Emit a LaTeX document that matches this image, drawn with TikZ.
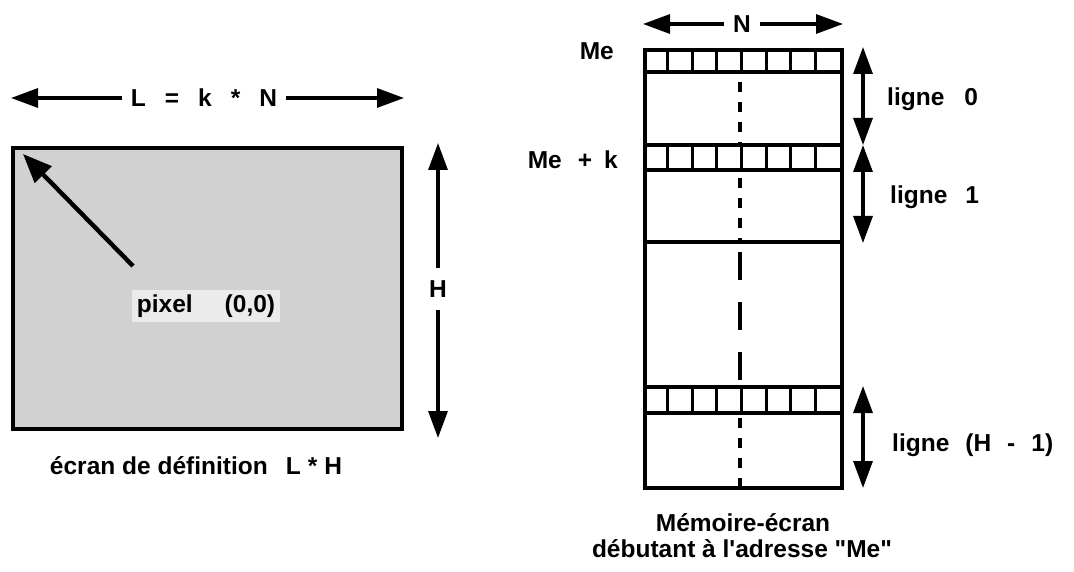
\documentclass[tikz,border=0pt]{standalone}
\usepackage{fontspec}
\setmainfont{Liberation Sans}
\usetikzlibrary{arrows.meta}
\newcommand{\wsp}[1]{\hspace{#1pt}}
\begin{document}
\begin{tikzpicture}[x=1pt,y=-1pt,
  lbl/.style={font=\fontsize{24.5}{29}\selectfont\bfseries, inner sep=0pt},
  gaplbl/.style={lbl, inner xsep=9pt, inner ysep=9pt},
  dimline/.style={line width=3.2pt, -{Triangle[length=27pt,width=19pt]}},
  dimboth/.style={line width=3.2pt, {Triangle[length=27pt,width=19pt]}-{Triangle[length=27pt,width=19pt]}},
  frame/.style={draw, line width=4pt, inner sep=0pt},
  rule/.style={line width=3.2pt},
  cellrule/.style={line width=3pt},
  shortdash/.style={line width=4pt, dash pattern=on 10pt off 10pt},
  longdash/.style={line width=4pt, dash pattern=on 28pt off 22pt}]
\useasboundingbox (0,0) rectangle (1074,572);

% ---------- screen L x H ----------
\node[frame, fill=black!18, minimum width=389pt, minimum height=281pt, anchor=north west] (screen) at (11,146) {};

\node[gaplbl] (Ltxt) at (204,98) {L\wsp{19}=\wsp{19}k\wsp{19}*\wsp{19}N};
\coordinate (Lleft) at (11,98);
\coordinate (Lright) at (404,98);
\draw[dimline] (Ltxt) -- (Lleft);
\draw[dimline] (Ltxt) -- (Lright);

\node[gaplbl, inner ysep=12pt] (Htxt) at (438,289) {H};
\coordinate (Htop) at (438,143);
\coordinate (Hbot) at (438,438);
\draw[dimline] (Htxt) -- (Htop);
\draw[dimline] (Htxt) -- (Hbot);

\node[lbl, fill=black!8, inner sep=5pt] (pix) at (206,306) {pixel\wsp{32}(0,0)};
\coordinate (ptail) at (133,266);
\coordinate (ptip) at (23,154);
\draw[line width=4.4pt, -{Triangle[length=29pt,width=23pt]}] (ptail) -- (ptip);

\node[lbl] (cap1) at (196,466) {écran de définition\wsp{18}L\wsp{7}*\wsp{7}H};

% ---------- screen memory ----------
\node[frame, minimum width=197pt, minimum height=438pt, anchor=north west] (mem) at (643,48) {};

% row separators
\foreach \y in {72,145,170,242,387,413}
  \draw[rule] (mem.west |- 0,\y) -- (mem.east |- 0,\y);

% byte cells of the three drawn lines
\foreach \top/\bot in {48/72,145/170,387/413}
  \foreach \i in {1,...,7}
    \draw[cellrule] ({643+24.625*\i},\top) -- ({643+24.625*\i},\bot);

% centre dashes
\draw[shortdash] (740,82) -- (740,145);
\draw[shortdash] (740,178) -- (740,242);
\draw[longdash] (740,252) -- (740,387);
\draw[shortdash] (740,418) -- (740,486);

\node[gaplbl] (Ntxt) at (742,24) {N};
\coordinate (Nleft) at (643,24);
\coordinate (Nright) at (843,24);
\draw[dimline] (Ntxt) -- (Nleft);
\draw[dimline] (Ntxt) -- (Nright);

\node[lbl, anchor=east] (me) at (614,51) {Me};
\node[lbl, anchor=east] (mek) at (618,160) {Me\wsp{16}+\wsp{12}k};

% line extents
\coordinate (a0) at (863,47);
\coordinate (a1) at (863,145);
\coordinate (a2) at (863,243);
\coordinate (a3) at (863,386);
\coordinate (a4) at (863,488);
\draw[dimboth] (a0) -- (a1);
\draw[dimboth] (a1) -- (a2);
\draw[dimboth] (a3) -- (a4);

\node[lbl, anchor=west] (l0) at (887,99) {ligne\wsp{20}0};
\node[lbl, anchor=west] (l1) at (890,197) {ligne\wsp{18}1};
\node[lbl, anchor=west] (lh) at (892,445) {ligne\wsp{16}(H\wsp{16}-\wsp{16}1)};

\node[lbl] (cap2) at (743,523) {Mémoire-écran};
\node[lbl] (cap3) at (742,549) {débutant à l\textquotesingle adresse \textquotedbl Me\textquotedbl};
\end{tikzpicture}
\end{document}
